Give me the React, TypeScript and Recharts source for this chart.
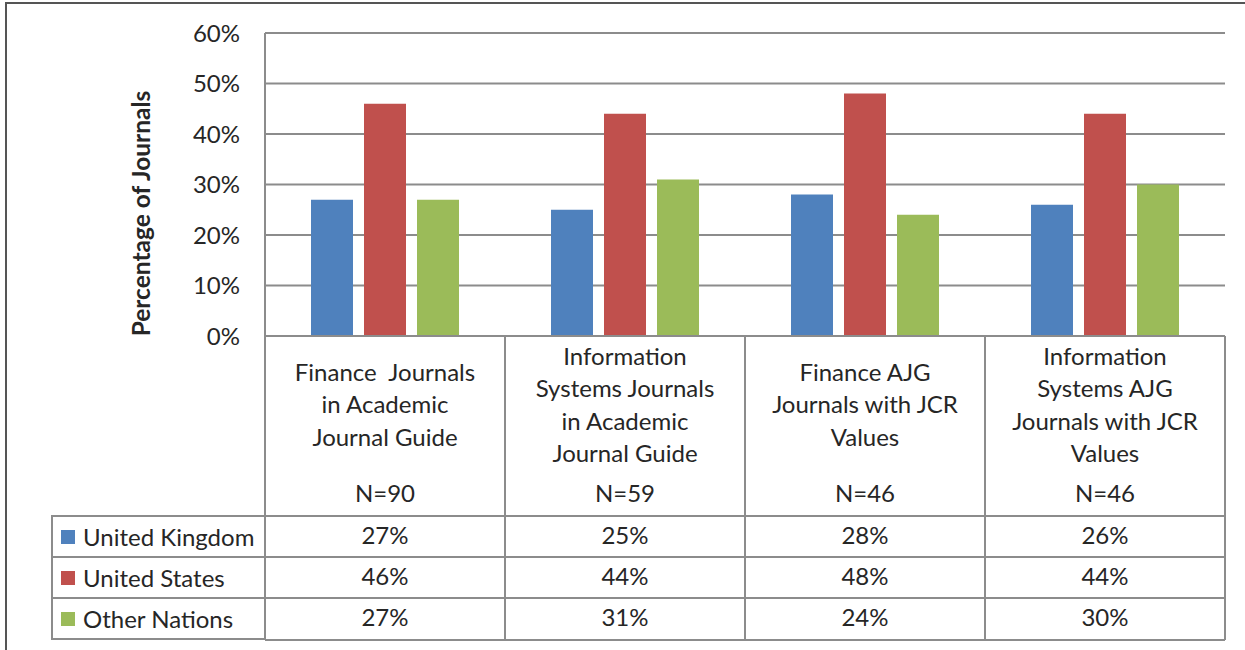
import { BarChart, Bar, XAxis, YAxis, CartesianGrid } from "recharts";

const categoryLines = [
  ["Finance  Journals", "in Academic", "Journal Guide"],
  ["Information", "Systems Journals", "in Academic", "Journal Guide"],
  ["Finance AJG", "Journals with JCR", "Values"],
  ["Information", "Systems AJG", "Journals with JCR", "Values"],
];
const sampleSizes = ["N=90", "N=59", "N=46", "N=46"];
const seriesNames = ["United Kingdom", "United States", "Other Nations"];
const unitedKingdom = [27, 25, 28, 26];
const unitedStates = [46, 44, 48, 44];
const otherNations = [27, 31, 24, 30];
const yTicks = [0, 10, 20, 30, 40, 50, 60];

const COLORS = ["#4F81BD", "#C0504D", "#9BBB59"];
const FONT = "Lato, 'Open Sans', sans-serif";
const LINE = "#8c8c8c";
const TEXT = "#262626";
const BAND = 240;

const data = categoryLines.map((lines, i) => ({
  name: lines.join(" "),
  uk: unitedKingdom[i],
  us: unitedStates[i],
  other: otherNations[i],
}));
const rows = [unitedKingdom, unitedStates, otherNations];

function CategoryTick(props: any) {
  const { x, y, payload } = props;
  const i = payload.index ?? data.findIndex((d) => d.name === payload.value);
  const lines = categoryLines[i];
  const lh = 32.5;
  const startY = y + 69 - ((lines.length - 1) * lh) / 2;
  const left = x - BAND / 2;
  const right = x + BAND / 2;
  return (
    <g fontFamily={FONT} fontSize={24} fill={TEXT}>
      {lines.map((l, k) => (
        <text key={k} x={x} y={startY + k * lh} dy="0.35em" textAnchor="middle" style={{ whiteSpace: "pre" }}>
          {l}
        </text>
      ))}
      <text x={x} y={y + 158} dy="0.35em" textAnchor="middle">
        {sampleSizes[i]}
      </text>
      {rows.map((r, k) => (
        <text key={k} x={x} y={y + 200 + k * 41} dy="0.35em" textAnchor="middle">
          {r[i]}%
        </text>
      ))}
      <line x1={left} x2={left} y1={y} y2={y + 304} stroke={LINE} strokeWidth={2} />
      <line x1={right} x2={right} y1={y} y2={y + 304} stroke={LINE} strokeWidth={2} />
      {[180, 221, 262, 304].map((dy) => (
        <line key={dy} x1={left} x2={right} y1={y + dy} y2={y + dy} stroke={LINE} strokeWidth={2} />
      ))}
    </g>
  );
}

function TableLegend() {
  return (
    <div style={{ position: "absolute", left: 51, top: 515, width: 214, fontFamily: FONT, fontSize: 24, color: TEXT }}>
      {seriesNames.map((name, k) => (
        <div
          key={k}
          style={{
            boxSizing: "border-box",
            height: k === seriesNames.length - 1 ? 43 : 41,
            borderTop: `2px solid ${LINE}`,
            borderLeft: `2px solid ${LINE}`,
            borderBottom: k === seriesNames.length - 1 ? `2px solid ${LINE}` : "none",
            display: "flex",
            alignItems: "center",
            whiteSpace: "nowrap",
          }}
        >
          <span style={{ width: 14, height: 14, background: COLORS[k], marginLeft: 8, marginRight: 8, display: "inline-block" }} />
          {name}
        </div>
      ))}
    </div>
  );
}

function YTitle(props: any) {
  const { viewBox } = props;
  const cx = 141;
  const cy = viewBox.y + viewBox.height / 2 + 29;
  return (
    <text
      x={cx}
      y={cy}
      transform={`rotate(-90, ${cx}, ${cy})`}
      textAnchor="middle"
      dy="0.35em"
      fontFamily={FONT}
      fontSize={24.5}
      fontWeight="bold"
      fill={TEXT}
    >
      Percentage of Journals
    </text>
  );
}

export default function App() {
  return (
    <div style={{ position: "absolute", left: 0, top: 0, width: 1245, height: 650, background: "#fff" }}>
      <div
        style={{
          position: "absolute",
          left: 5,
          top: 2,
          right: 0,
          bottom: 0,
          borderTop: "2px solid #555",
          borderLeft: "2px solid #555",
        }}
      />
      <BarChart
        width={1245}
        height={650}
        data={data}
        margin={{ top: 33, right: 20, bottom: 0, left: 0 }}
        barSize={42}
        barGap={11}
        style={{ fontFamily: FONT }}
      >
        <CartesianGrid vertical={false} stroke={LINE} strokeWidth={2} />
        <XAxis
          dataKey="name"
          height={314}
          axisLine={{ stroke: LINE, strokeWidth: 2 }}
          tickLine={false}
          tickSize={0}
          tickMargin={0}
          interval={0}
          tick={<CategoryTick />}
        />
        <YAxis
          width={265}
          domain={[0, 60]}
          ticks={yTicks}
          tickFormatter={(v) => `${v}%`}
          axisLine={{ stroke: LINE, strokeWidth: 2 }}
          tickLine={false}
          tickSize={0}
          tickMargin={25}
          tick={{ fontSize: 24, fill: TEXT, fontFamily: FONT }}
          label={<YTitle />}
        />
        <Bar dataKey="uk" name={seriesNames[0]} fill={COLORS[0]} isAnimationActive={false} />
        <Bar dataKey="us" name={seriesNames[1]} fill={COLORS[1]} isAnimationActive={false} />
        <Bar dataKey="other" name={seriesNames[2]} fill={COLORS[2]} isAnimationActive={false} />
      </BarChart>
      <TableLegend />
    </div>
  );
}
